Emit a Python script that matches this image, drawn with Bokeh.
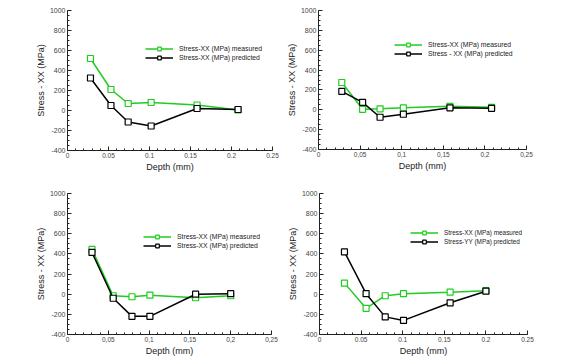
from bokeh.plotting import figure
from bokeh.layouts import column, row
from bokeh.models import Range1d, FixedTicker, Legend, LegendItem
from bokeh.embed import file_html
from bokeh.resources import INLINE

# ---- data ----
depth_a = [0.028, 0.053, 0.074, 0.102, 0.158, 0.208]
depth_b = [0.030, 0.056, 0.079, 0.101, 0.157, 0.200]

p1_measured = [520, 210, 70, 80, 55, 5]
p1_predicted = [325, 50, -115, -155, 20, 10]

p2_measured = [275, 5, 10, 20, 35, 25]
p2_predicted = [185, 75, -75, -45, 20, 15]

p3_measured = [445, -15, -25, -10, -35, -15]
p3_predicted = [415, -40, -220, -220, 0, 5]

p4_measured = [110, -140, -15, 5, 20, 35]
p4_predicted = [420, 5, -225, -260, -85, 30]

x_ticks = [0, 0.05, 0.1, 0.15, 0.2, 0.25]
x_labels_dot = ["0", "0.05", "0.1", "0.15", "0.2", "0.25"]
x_labels_comma = ["0", "0,05", "0,1", "0,15", "0,2", "0,25"]
y_ticks = [-400, -200, 0, 200, 400, 600, 800, 1000]
y_labels = ["-400", "-200", "0", "200", "400", "600", "800", "1000"]

legend_1 = ["Stress-XX (MPa) measured", "Stress-XX (MPa) predicted"]
legend_2 = ["Stress-XX (MPa) measured", "Stress - XX (MPa) predicted"]
legend_3 = ["Stress-XX (MPa) measured", "Stress-XX (MPa) predicted"]
legend_4 = ["Stress-XX (MPa) measured", "Stress-YY (MPa) predicted"]

y_title = "Stress - XX (MPa)"
x_title = "Depth (mm)"

GREEN = "#1fcc1f"
FONT = "Liberation Sans"


def panel(xs, meas, pred, labels, xlabels, fw, fh, bl, br, bt, bb,
          leg_loc, leg_font):
    p = figure(frame_width=fw, frame_height=fh,
               min_border_left=bl, min_border_right=br,
               min_border_top=bt, min_border_bottom=bb,
               x_range=Range1d(0, 0.25), y_range=Range1d(-400, 1000),
               output_backend="svg", toolbar_location=None,
               background_fill_color="white", border_fill_color="white")
    p.outline_line_color = None
    p.grid.visible = False

    p.xaxis.ticker = FixedTicker(ticks=x_ticks,
                                 minor_ticks=[i * 0.01 for i in range(26)])
    p.xaxis.major_label_overrides = {t: l for t, l in zip(x_ticks, xlabels)}
    p.yaxis.ticker = FixedTicker(ticks=y_ticks,
                                 minor_ticks=list(range(-400, 1001, 50)))
    p.yaxis.major_label_overrides = {t: l for t, l in zip(y_ticks, y_labels)}

    for ax in (p.xaxis, p.yaxis):
        ax.axis_line_color = "#222222"
        ax.axis_line_width = 1
        ax.major_tick_in = 4
        ax.major_tick_out = 0
        ax.minor_tick_in = 2
        ax.minor_tick_out = 0
        ax.major_tick_line_color = "#222222"
        ax.minor_tick_line_color = "#222222"
        ax.major_label_text_font = FONT
        ax.major_label_text_font_size = "6.5px"
        ax.major_label_text_color = "#444444"
        ax.major_label_standoff = 2
        ax.axis_label_text_font = FONT
        ax.axis_label_text_font_size = "9px"
        ax.axis_label_text_font_style = "normal"
        ax.axis_label_text_color = "#222222"
        ax.axis_label_standoff = 1
    p.yaxis.major_label_text_font_size = "7px"
    p.yaxis.major_label_standoff = 2
    p.yaxis.axis_label_standoff = 1
    p.xaxis.axis_label = x_title
    p.yaxis.axis_label = y_title

    lm = p.line(xs, meas, line_color=GREEN, line_width=1.5)
    sm = p.scatter(xs, meas, marker="square", size=6, line_color=GREEN,
                   line_width=1.2, fill_color="white")
    lp = p.line(xs, pred, line_color="black", line_width=1.5)
    sp = p.scatter(xs, pred, marker="square", size=6, line_color="black",
                   line_width=1.2, fill_color="white")

    leg = Legend(items=[LegendItem(label=labels[0], renderers=[lm, sm]),
                        LegendItem(label=labels[1], renderers=[lp, sp])],
                 location=leg_loc)
    leg.background_fill_alpha = 0
    leg.border_line_color = None
    leg.padding = 0
    leg.margin = 0
    leg.spacing = 0
    leg.label_height = 9
    leg.glyph_height = 9
    leg.glyph_width = 28
    leg.label_standoff = 6
    leg.label_text_font = FONT
    leg.label_text_font_size = leg_font
    leg.label_text_color = "#222222"
    p.add_layout(leg, "center")
    return p


p1 = panel(depth_a, p1_measured, p1_predicted, legend_1, x_labels_dot,
           205, 140, 67, 10, 10, 26, (78, 88), "6.8px")
p2 = panel(depth_a, p2_measured, p2_predicted, legend_2, x_labels_comma,
           208, 139, 36, 40, 10, 26, (76, 91), "6.8px")
p3 = panel(depth_b, p3_measured, p3_predicted, legend_3, x_labels_comma,
           204, 141, 67, 11, 17, 22, (76, 84), "6.8px")
p4 = panel(depth_b, p4_measured, p4_predicted, legend_4, x_labels_dot,
           208, 141, 37, 39, 17, 22, (91, 88), "6.4px")

layout = column(row(p1, p2), row(p3, p4))
open("out.html", "w").write(file_html(layout, INLINE))
